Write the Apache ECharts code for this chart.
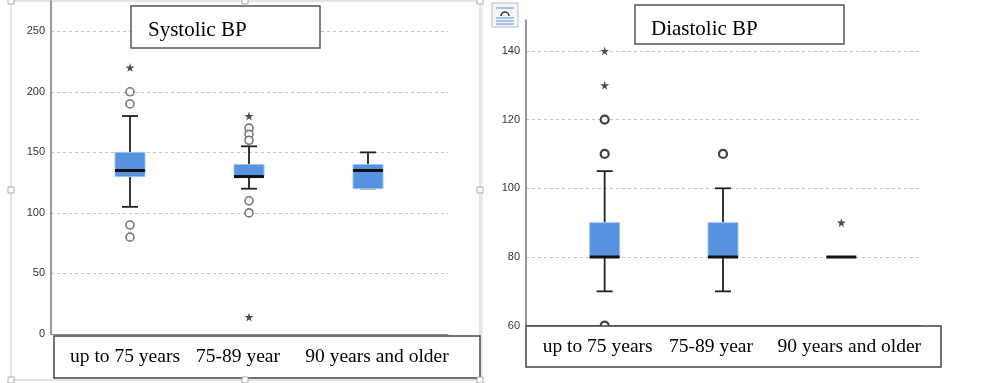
<!DOCTYPE html>
<html>
<head>
<meta charset="utf-8">
<script src="https://cdn.jsdelivr.net/npm/echarts@6/dist/echarts.min.js"></script>
<style>html,body{margin:0;padding:0;background:#fff}#c{width:1000px;height:383px}</style>
</head>
<body>
<div id="c"></div>
<script>
// ---- data ----
const categories = ['up to 75 years', '75-89 year', '90 years and older'];
// [lower whisker, Q1, median, Q3, upper whisker]
const sysBoxes = [[105, 130, 135, 150, 180], [120, 130, 130, 140, 155], [120, 120, 135, 140, 150]];
const sysOutliers = [[0, 200], [0, 190], [0, 90], [0, 80], [1, 170], [1, 165], [1, 160], [1, 110], [1, 100]];
const sysExtremes = [[0, 220], [1, 180], [1, 14]];
const diaBoxes = [[70, 80, 80, 90, 105], [70, 80, 80, 90, 100], [80, 80, 80, 80, 80]];
const diaOutliers = [[0, 120], [0, 110], [0, 60], [1, 110]];
const diaExtremes = [[0, 140], [0, 130], [2, 90]];
const sysTicks = {min: 0, max: 275, interval: 50};
const diaTicks = {min: 60, max: 149, interval: 20};
const titles = ['Systolic BP', 'Diastolic BP'];

const STAR = 'path://M50,0 L61,35 L98,35 L68,57 L79,91 L50,70 L21,91 L32,57 L2,35 L39,35 Z';
const serif = "'Liberation Serif','Times New Roman',serif";
const sans = "'Liberation Sans',Arial,sans-serif";

function renderBox(params, api) {
  const x = api.value(0);
  const lo = api.coord([x, api.value(1)]);
  const q1 = api.coord([x, api.value(2)]);
  const md = api.coord([x, api.value(3)]);
  const q3 = api.coord([x, api.value(4)]);
  const hi = api.coord([x, api.value(5)]);
  const cx = lo[0], bw = 30, cap = 16;
  const wStyle = {stroke: '#222', lineWidth: 1.8};
  const ch = [];
  if (hi[1] < q3[1]) ch.push({type: 'line', shape: {x1: cx, y1: hi[1], x2: cx, y2: q3[1]}, style: wStyle});
  if (lo[1] > q1[1]) ch.push({type: 'line', shape: {x1: cx, y1: q1[1], x2: cx, y2: lo[1]}, style: wStyle});
  if (hi[1] < lo[1]) {
    ch.push({type: 'line', shape: {x1: cx - cap / 2, y1: hi[1], x2: cx + cap / 2, y2: hi[1]}, style: wStyle});
    ch.push({type: 'line', shape: {x1: cx - cap / 2, y1: lo[1], x2: cx + cap / 2, y2: lo[1]}, style: {stroke: lo[1] > q1[1] ? '#222' : '#888', lineWidth: 1.8}});
  }
  if (q1[1] > q3[1]) ch.push({type: 'rect', shape: {x: cx - bw / 2, y: q3[1], width: bw, height: q1[1] - q3[1]}, style: {fill: '#5592e0', stroke: '#9cc2ef', lineWidth: 1}});
  ch.push({type: 'line', shape: {x1: cx - bw / 2, y1: md[1], x2: cx + bw / 2, y2: md[1]}, style: {stroke: '#111', lineWidth: 3}});
  return {type: 'group', children: ch};
}

function labelCfg(margin, pads) {
  const rich = {};
  pads.forEach((p, i) => {
    rich['c' + i] = {fontFamily: serif, fontSize: 19.5, color: '#000', lineHeight: 20,
      padding: p >= 0 ? [0, 0, 0, p] : [0, -p, 0, 0]};
  });
  return {margin: margin, formatter: (v, i) => '{c' + i + '|' + v + '}', rich: rich, interval: 0};
}

function bgY(grid, t) {
  return {gridIndex: grid, type: 'value', min: t.min, max: t.max, interval: t.interval,
    axisLine: {show: true, lineStyle: {color: '#777', width: 1.5}},
    axisTick: {show: false},
    axisLabel: {fontFamily: sans, fontSize: 11, color: '#333', margin: 6, showMaxLabel: false},
    splitLine: {show: true, showMinLine: false, showMaxLine: false, lineStyle: {color: '#c4c4c4', type: [3, 3], width: 1}}};
}
function fgY(grid, t) {
  return {gridIndex: grid, type: 'value', min: t.min, max: t.max, show: false, splitLine: {show: false}};
}
function bgX(grid) {
  return {gridIndex: grid, type: 'value', min: 0, max: 1, axisLine: {show: true, lineStyle: {color: '#888', width: 1.2}},
    axisTick: {show: false}, axisLabel: {show: false}, splitLine: {show: false}};
}
function fgX(grid, margin, pads) {
  return {gridIndex: grid, type: 'category', data: categories, z: 10,
    axisLine: {show: false}, axisTick: {show: false}, axisLabel: labelCfg(margin, pads), splitLine: {show: false}};
}

function seriesFor(xi, boxes, outs, extr, circStroke, circW) {
  return [
    {type: 'custom', xAxisIndex: xi, yAxisIndex: xi, z: 2, renderItem: renderBox,
      encode: {x: 0, y: [1, 2, 3, 4, 5]}, data: boxes.map((b, i) => [i].concat(b)), silent: true},
    {type: 'scatter', xAxisIndex: xi, yAxisIndex: xi, z: 3, symbol: 'circle', symbolSize: 8,
      itemStyle: {color: '#fff', borderColor: circStroke, borderWidth: circW}, data: outs, silent: true},
    {type: 'scatter', xAxisIndex: xi, yAxisIndex: xi, z: 3, symbol: STAR, symbolSize: 9,
      itemStyle: {color: '#222'}, data: extr, silent: true}
  ];
}

const handles = [[11, 1], [245, 1], [480, 1], [11, 190], [480, 190], [11, 380], [245, 380], [480, 380]].map(p => ({
  type: 'rect', z: 5, shape: {x: p[0] - 3, y: p[1] - 3, width: 6, height: 6}, style: {fill: '#fff', stroke: '#aaa', lineWidth: 1}
}));

const option = {
  animation: false,
  backgroundColor: '#fff',
  grid: [
    {left: 51, right: 552, top: 1, bottom: 49},
    {left: 70.5, right: 572.5, top: 1, bottom: 49},
    {left: 526, right: 79, top: 20, bottom: 57.3},
    {left: 545.5, right: 99.5, top: 20, bottom: 57.3}
  ],
  xAxis: [bgX(0), fgX(1, 13, [-10, -22, 18]), bgX(2), fgX(3, 11, [-14, -24, 16])],
  yAxis: [bgY(0, sysTicks), fgY(1, sysTicks), bgY(2, diaTicks), fgY(3, diaTicks)],
  series: [].concat(
    seriesFor(1, sysBoxes, sysOutliers, sysExtremes, '#555', 1.6),
    seriesFor(3, diaBoxes, diaOutliers, diaExtremes, '#111', 2.2)
  ),
  graphic: [
    {type: 'rect', z: -1, shape: {x: 11, y: 1, width: 469, height: 379}, style: {fill: 'none', stroke: '#c8c8c8', lineWidth: 1}},
    {type: 'line', z: -1, shape: {x1: 482, y1: 0, x2: 482, y2: 383}, style: {stroke: '#d8d8d8', lineWidth: 1}},
    ...handles,
    // title boxes
    {type: 'rect', z: 4, shape: {x: 131, y: 6, width: 189, height: 42}, style: {fill: '#fff', stroke: '#555', lineWidth: 1.5}},
    {type: 'text', z: 5, x: 148, y: 30, style: {text: titles[0], fontFamily: serif, fontSize: 21, fill: '#000', verticalAlign: 'middle'}},
    {type: 'rect', z: 4, shape: {x: 635, y: 5, width: 209, height: 39}, style: {fill: '#fff', stroke: '#555', lineWidth: 1.5}},
    {type: 'text', z: 5, x: 651, y: 29, style: {text: titles[1], fontFamily: serif, fontSize: 21, fill: '#000', verticalAlign: 'middle'}},
    // category label boxes
    {type: 'rect', z: 4, shape: {x: 54, y: 336, width: 426, height: 42}, style: {fill: '#fff', stroke: '#444', lineWidth: 1.5}},
    {type: 'rect', z: 4, shape: {x: 526, y: 326, width: 415, height: 41}, style: {fill: '#fff', stroke: '#444', lineWidth: 1.5}},
    // layout icon
    {type: 'rect', z: 4, shape: {x: 492, y: 3, width: 26, height: 24}, style: {fill: '#f4f6fa', stroke: '#b8bcc4', lineWidth: 1}},
    {type: 'line', z: 5, shape: {x1: 496, y1: 8, x2: 514, y2: 8}, style: {stroke: '#5b8fd0', lineWidth: 1}},
    {type: 'line', z: 5, shape: {x1: 496, y1: 18, x2: 514, y2: 18}, style: {stroke: '#5b8fd0', lineWidth: 1}},
    {type: 'line', z: 5, shape: {x1: 496, y1: 21, x2: 514, y2: 21}, style: {stroke: '#5b8fd0', lineWidth: 1}},
    {type: 'line', z: 5, shape: {x1: 496, y1: 24, x2: 514, y2: 24}, style: {stroke: '#5b8fd0', lineWidth: 1}},
    {type: 'arc', z: 5, shape: {cx: 505, cy: 16, r: 4, startAngle: Math.PI, endAngle: 2 * Math.PI}, style: {fill: 'none', stroke: '#333', lineWidth: 1.5}}
  ]
};

const chart = echarts.init(document.getElementById('c'), null, {renderer: 'canvas'});
chart.setOption(option);
</script>
</body>
</html>
